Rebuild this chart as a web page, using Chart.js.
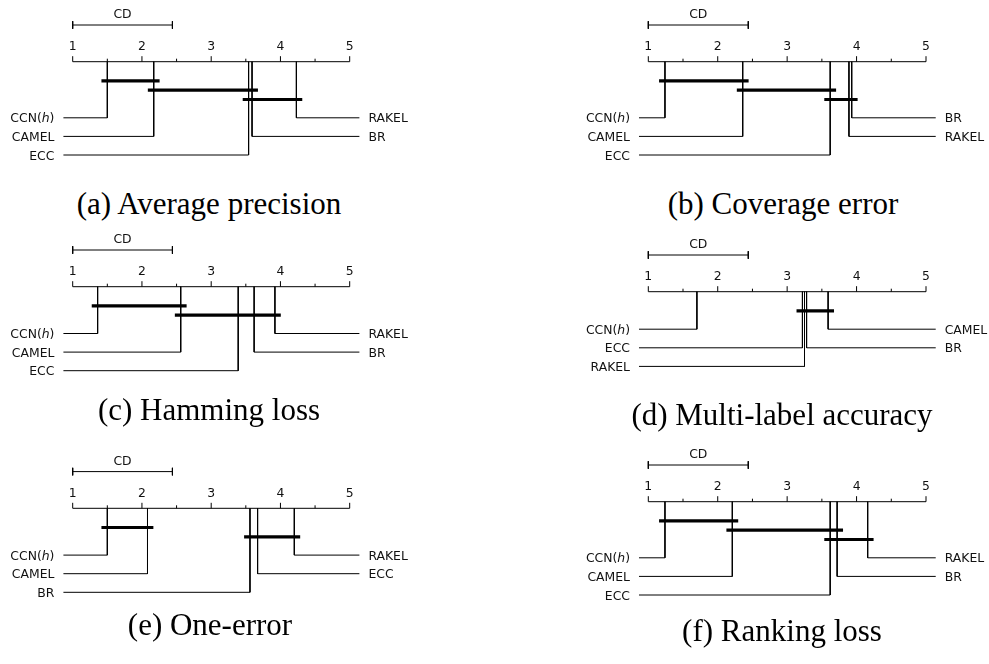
<!DOCTYPE html>
<html>
<head>
<meta charset="utf-8">
<script src="https://cdn.jsdelivr.net/npm/chart.js@4.4.1/dist/chart.umd.min.js"></script>
<style>
  html, body { margin: 0; padding: 0; background: #fff; }
  body { width: 989px; height: 664px; position: relative; overflow: hidden; }
  canvas.panel { position: absolute; }
  .caption {
    position: absolute; white-space: nowrap; color: #000;
    font-family: 'Liberation Serif', 'DejaVu Serif', serif;
    font-size: 31px; line-height: 31px; transform: translateX(-50%);
  }
</style>
</head>
<body>
<script>
// Methods compared in every diagram (same order as the rank arrays)
const methods = ['CCN(h)', 'CAMEL', 'ECC', 'BR', 'RAKEL'];

// Average ranks of each method, one array per evaluation measure
const avgPrecisionRanks  = [1.50, 2.17, 3.54, 3.59, 4.23];
const coverageErrorRanks = [1.24, 2.36, 3.62, 3.93, 3.89];
const hammingLossRanks   = [1.36, 2.56, 3.39, 3.62, 3.92];
const multiLabelAccRanks = [1.70, 3.59, 3.22, 3.28, 3.25];
const oneErrorRanks      = [1.50, 2.08, 3.67, 3.56, 4.20];
const rankingLossRanks   = [1.24, 2.21, 3.62, 3.72, 4.16];

// Groups of methods that are not significantly different (lowest and highest member)
const avgPrecisionGroups  = [['CCN(h)', 'CAMEL'], ['CAMEL', 'BR'], ['ECC', 'RAKEL']];
const coverageErrorGroups = [['CCN(h)', 'CAMEL'], ['CAMEL', 'ECC'], ['ECC', 'BR']];
const hammingLossGroups   = [['CCN(h)', 'CAMEL'], ['CAMEL', 'RAKEL']];
const multiLabelAccGroups = [['ECC', 'CAMEL']];
const oneErrorGroups      = [['CCN(h)', 'CAMEL'], ['BR', 'RAKEL']];
const rankingLossGroups   = [['CCN(h)', 'CAMEL'], ['CAMEL', 'BR'], ['ECC', 'RAKEL']];

// Critical difference of the Nemenyi test
const criticalDifference = 1.44;

// Rank axis
const rankTicks = [1, 2, 3, 4, 5];
const rankTickLabels = ['1', '2', '3', '4', '5'];
const rankMinorTicks = [1.5, 2.5, 3.5, 4.5];

const captions = [
  '(a) Average precision', '(b) Coverage error',
  '(c) Hamming loss', '(d) Multi-label accuracy',
  '(e) One-error', '(f) Ranking loss'
];

// ---------- layout ----------
const columns = [
  { left: 0,   width: 440, px1: 72.7,  px5: 349.7 },
  { left: 560, width: 429, px1: 648.3, px5: 926.0 }
];
const panelPlacement = [
  { col: 0, axisY: 61.7,  capX: 209, capBase: 214 },
  { col: 1, axisY: 61.7,  capX: 783, capBase: 214 },
  { col: 0, axisY: 286.7, capX: 209, capBase: 420 },
  { col: 1, axisY: 291.7, capX: 782, capBase: 425 },
  { col: 0, axisY: 508.3, capX: 210, capBase: 635 },
  { col: 1, axisY: 501.7, capX: 782, capBase: 641 }
];
const L = {
  majorTick: 5.5, minorTick: 3,
  tickLabelY: -11.5,       // baseline of the rank numbers (relative to axis)
  cdY: -36.7, cdCap: 3.8, cdLabelY: -43.4,
  groupStart: 19.2, groupStep: 9.3, groupWidth: 3.2, groupExt: 0.085,
  rowGap: 18.3, rowStep: 18.6,
  lineLeft: 0.866, lineRight: 5.14, textGap: 9,
  fontSize: 12.4, textDy: 4.5
};

const panels = [
  { ranks: avgPrecisionRanks,  groups: avgPrecisionGroups },
  { ranks: coverageErrorRanks, groups: coverageErrorGroups },
  { ranks: hammingLossRanks,   groups: hammingLossGroups },
  { ranks: multiLabelAccRanks, groups: multiLabelAccGroups },
  { ranks: oneErrorRanks,      groups: oneErrorGroups },
  { ranks: rankingLossRanks,   groups: rankingLossGroups }
];

function seg(points, width, order) {
  return {
    data: points, showLine: true, borderColor: '#000', borderWidth: width,
    pointRadius: 0, pointHoverRadius: 0, tension: 0, fill: false,
    borderCapStyle: 'butt', borderJoinStyle: 'miter', order: order
  };
}

// Best half of the methods on the left, the rest on the right (worst on top)
function buildRows(ranks) {
  const items = methods.map((m, i) => ({ name: m, rank: ranks[i] }))
    .sort((a, b) => a.rank - b.rank);
  const nLeft = Math.ceil(items.length / 2);
  const left = items.slice(0, nLeft).map((o, i) => ({ ...o, side: 'left', row: i }));
  const right = items.slice(nLeft).reverse().map((o, i) => ({ ...o, side: 'right', row: i }));
  return left.concat(right);
}

// Draws a method name, with a single letter in parentheses set in italics
function drawName(ctx, name, x, y, align) {
  const normal = `${L.fontSize}px 'DejaVu Sans'`;
  const italic = `oblique ${L.fontSize}px 'DejaVu Sans'`;
  const m = name.match(/^(.*\()(\w)(\).*)$/);
  const parts = m ? [[m[1], normal], [m[2], italic], [m[3], normal]] : [[name, normal]];
  let total = 0;
  parts.forEach(([t, f]) => { ctx.font = f; total += ctx.measureText(t).width; });
  let cx = align === 'right' ? x - total : x;
  ctx.textAlign = 'left';
  parts.forEach(([t, f]) => { ctx.font = f; ctx.fillText(t, cx, y); cx += ctx.measureText(t).width; });
}

panels.forEach((p, idx) => {
  const place = panelPlacement[idx];
  const col = columns[place.col];
  const top = Math.floor(place.axisY - 60);
  const height = 170;

  const ppu = (col.px5 - col.px1) / 4;
  const xMin = 1 - (col.px1 - col.left) / ppu;
  const xMax = xMin + col.width / ppu;
  const yMin = top - place.axisY;
  const yMax = yMin + height;

  const rows = buildRows(p.ranks);
  const rankOf = name => p.ranks[methods.indexOf(name)];
  const groupY = k => L.groupStart + k * L.groupStep;
  const firstRowY = groupY(p.groups.length - 1) + L.rowGap;
  const rowY = r => firstRowY + r * L.rowStep;

  const datasets = [];
  // cliques
  p.groups.forEach((g, k) => {
    datasets.push(seg([{ x: rankOf(g[0]) - L.groupExt, y: groupY(k) },
                       { x: rankOf(g[1]) + L.groupExt, y: groupY(k) }], L.groupWidth, 0));
  });
  // rank axis
  datasets.push(seg([{ x: 1, y: 0 }, { x: 5, y: 0 }], 1, 1));
  rankTicks.forEach(v => datasets.push(seg([{ x: v, y: 0 }, { x: v, y: -L.majorTick }], 1, 1)));
  rankMinorTicks.forEach(v => datasets.push(seg([{ x: v, y: 0 }, { x: v, y: -L.minorTick }], 1, 1)));
  // critical difference bar
  const cdEnd = 1 + criticalDifference;
  datasets.push(seg([{ x: 1, y: L.cdY }, { x: cdEnd, y: L.cdY }], 1, 1));
  datasets.push(seg([{ x: 1, y: L.cdY - L.cdCap }, { x: 1, y: L.cdY + L.cdCap }], 1, 1));
  datasets.push(seg([{ x: cdEnd, y: L.cdY - L.cdCap }, { x: cdEnd, y: L.cdY + L.cdCap }], 1, 1));
  // method connectors
  rows.forEach(r => {
    const yy = rowY(r.row);
    const xe = r.side === 'left' ? L.lineLeft : L.lineRight;
    datasets.push(seg([{ x: r.rank, y: 0 }, { x: r.rank, y: yy }, { x: xe, y: yy }], 1, 2));
  });

  const textPlugin = {
    id: 'cdText' + idx,
    afterDatasetsDraw(chart) {
      const { ctx } = chart;
      const xs = chart.scales.x, ys = chart.scales.y;
      ctx.save();
      ctx.fillStyle = '#111';
      ctx.textBaseline = 'alphabetic';
      ctx.font = `${L.fontSize}px 'DejaVu Sans'`;
      ctx.textAlign = 'center';
      rankTicks.forEach((v, i) =>
        ctx.fillText(rankTickLabels[i], xs.getPixelForValue(v), ys.getPixelForValue(L.tickLabelY)));
      ctx.fillText('CD', xs.getPixelForValue(1 + criticalDifference / 2), ys.getPixelForValue(L.cdLabelY));
      rows.forEach(r => {
        const yy = ys.getPixelForValue(rowY(r.row)) + L.textDy;
        if (r.side === 'left') {
          drawName(ctx, r.name, xs.getPixelForValue(L.lineLeft) - L.textGap, yy, 'right');
        } else {
          drawName(ctx, r.name, xs.getPixelForValue(L.lineRight) + L.textGap, yy, 'left');
        }
      });
      ctx.restore();
    }
  };

  const canvas = document.createElement('canvas');
  canvas.className = 'panel';
  canvas.width = col.width; canvas.height = height;
  canvas.style.left = col.left + 'px'; canvas.style.top = top + 'px';
  canvas.style.width = col.width + 'px'; canvas.style.height = height + 'px';
  document.body.appendChild(canvas);

  new Chart(canvas, {
    type: 'scatter',
    data: { datasets },
    options: {
      responsive: false, animation: false, devicePixelRatio: 1,
      layout: { padding: 0 },
      plugins: { legend: { display: false }, tooltip: { enabled: false }, title: { display: false } },
      events: [],
      scales: {
        x: { type: 'linear', display: false, min: xMin, max: xMax },
        y: { type: 'linear', display: false, min: yMin, max: yMax, reverse: true }
      }
    },
    plugins: [textPlugin]
  });

  const cap = document.createElement('div');
  cap.className = 'caption';
  cap.textContent = captions[idx];
  cap.style.left = place.capX + 'px';
  cap.style.top = (place.capBase - 26) + 'px';
  document.body.appendChild(cap);
});
</script>
</body>
</html>
